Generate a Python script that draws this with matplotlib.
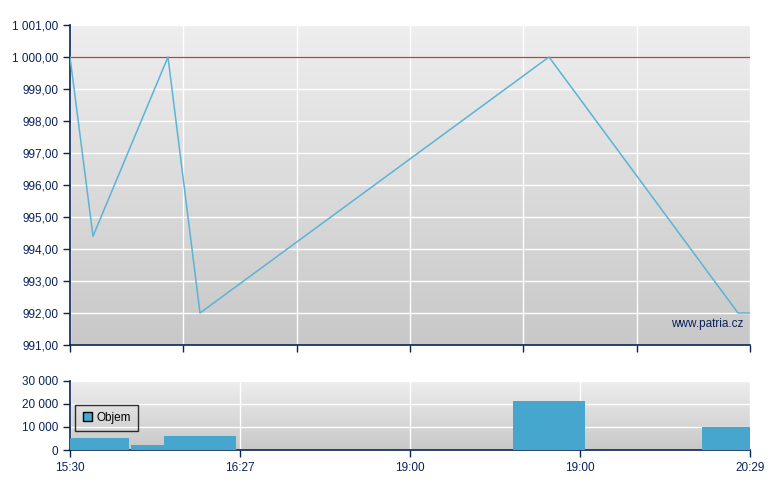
import numpy as np
import matplotlib.pyplot as plt

plt.rcParams['font.family'] = ['Liberation Sans', 'DejaVu Sans']

# Price line (x in index units 0..12 across the session)
price_x = [0, 0.406, 1.729, 2.294, 8.453, 11.788, 12]
price_y = [1000.0, 994.4, 1000.0, 992.0, 1000.0, 992.0, 992.0]
ref_level = 1000.0

# Volume bars: left edge, right edge, value
vol_left = [0.0, 1.076, 1.659, 7.818, 11.148]
vol_right = [1.041, 1.659, 2.929, 9.088, 12.0]
vol_vals = [5200, 2200, 6100, 21200, 10000]

bottom_ticks = ['15:30', '16:27', '19:00', '19:00', '20:29']

navy = '#0b2257'
line_c = '#5ab4d6'
bar_c = '#46a6ce'


def fmt_num(v, dec):
    s = f'{v:,.{dec}f}'
    s = s.replace(',', ' ').replace('.', ',')
    return s


def style_axes(ax):
    grad = np.linspace(0, 1, 256).reshape(-1, 1)
    ax.imshow(grad, extent=[0, 1, 0, 1], transform=ax.transAxes, aspect='auto',
              cmap=plt.matplotlib.colors.LinearSegmentedColormap.from_list(
                  'g', ['#c8c8c8', '#eeeeee']), origin='lower', zorder=0)
    for s in ['top', 'right']:
        ax.spines[s].set_visible(False)
    for s in ['left', 'bottom']:
        ax.spines[s].set_color(navy)
        ax.spines[s].set_linewidth(1.2)
    ax.tick_params(colors=navy, labelcolor=navy, labelsize=8.5, length=5, width=1)
    ax.grid(True, color='white', linewidth=1.0, zorder=1)
    ax.set_axisbelow(True)


fig = plt.figure(figsize=(7.8, 4.9), dpi=100)
ax1 = fig.add_axes([70/780, 145/490, 680/780, 320/490])
ax2 = fig.add_axes([70/780, 40/490, 680/780, 69.3/490])

style_axes(ax1)
ax1.set_xlim(0, 12)
ax1.set_ylim(991, 1001)
ax1.set_xticks(np.arange(0, 13, 2))
ax1.set_xticklabels([])
yt = np.arange(991, 1002, 1)
ax1.set_yticks(yt)
ax1.set_yticklabels([fmt_num(v, 2) for v in yt])
ax1.axhline(ref_level, color='#b8403a', linewidth=0.9, zorder=2)
ax1.plot(price_x, price_y, color=line_c, linewidth=1.1, zorder=3)
ax1.text(0.99, 0.065, 'www.patria.cz', transform=ax1.transAxes, ha='right',
         va='center', color=navy, fontsize=8.5, zorder=4)

style_axes(ax2)
ax2.set_xlim(0, 12)
ax2.set_ylim(0, 30000)
ax2.set_xticks(np.arange(0, 13, 3))
ax2.set_xticklabels(bottom_ticks)
ax2.set_yticks([0, 10000, 20000, 30000])
ax2.set_yticklabels([fmt_num(v, 0) for v in [0, 10000, 20000, 30000]])
widths = [r - l for l, r in zip(vol_left, vol_right)]
ax2.bar(vol_left, vol_vals, width=widths, align='edge', color=bar_c,
        linewidth=0, zorder=3, label='Objem')
leg = ax2.legend(loc='upper left', bbox_to_anchor=(0.008, 0.65), fontsize=8.5,
                 frameon=True, fancybox=False, handlelength=0.8, handleheight=0.8,
                 borderpad=0.6, handletextpad=0.4, borderaxespad=0)
leg.get_frame().set_edgecolor('black')
leg.get_frame().set_facecolor('none')
leg.get_frame().set_linewidth(1)
for h in leg.legend_handles:
    h.set_edgecolor('black')
    h.set_linewidth(1)

fig.savefig('out.png', dpi=100)
